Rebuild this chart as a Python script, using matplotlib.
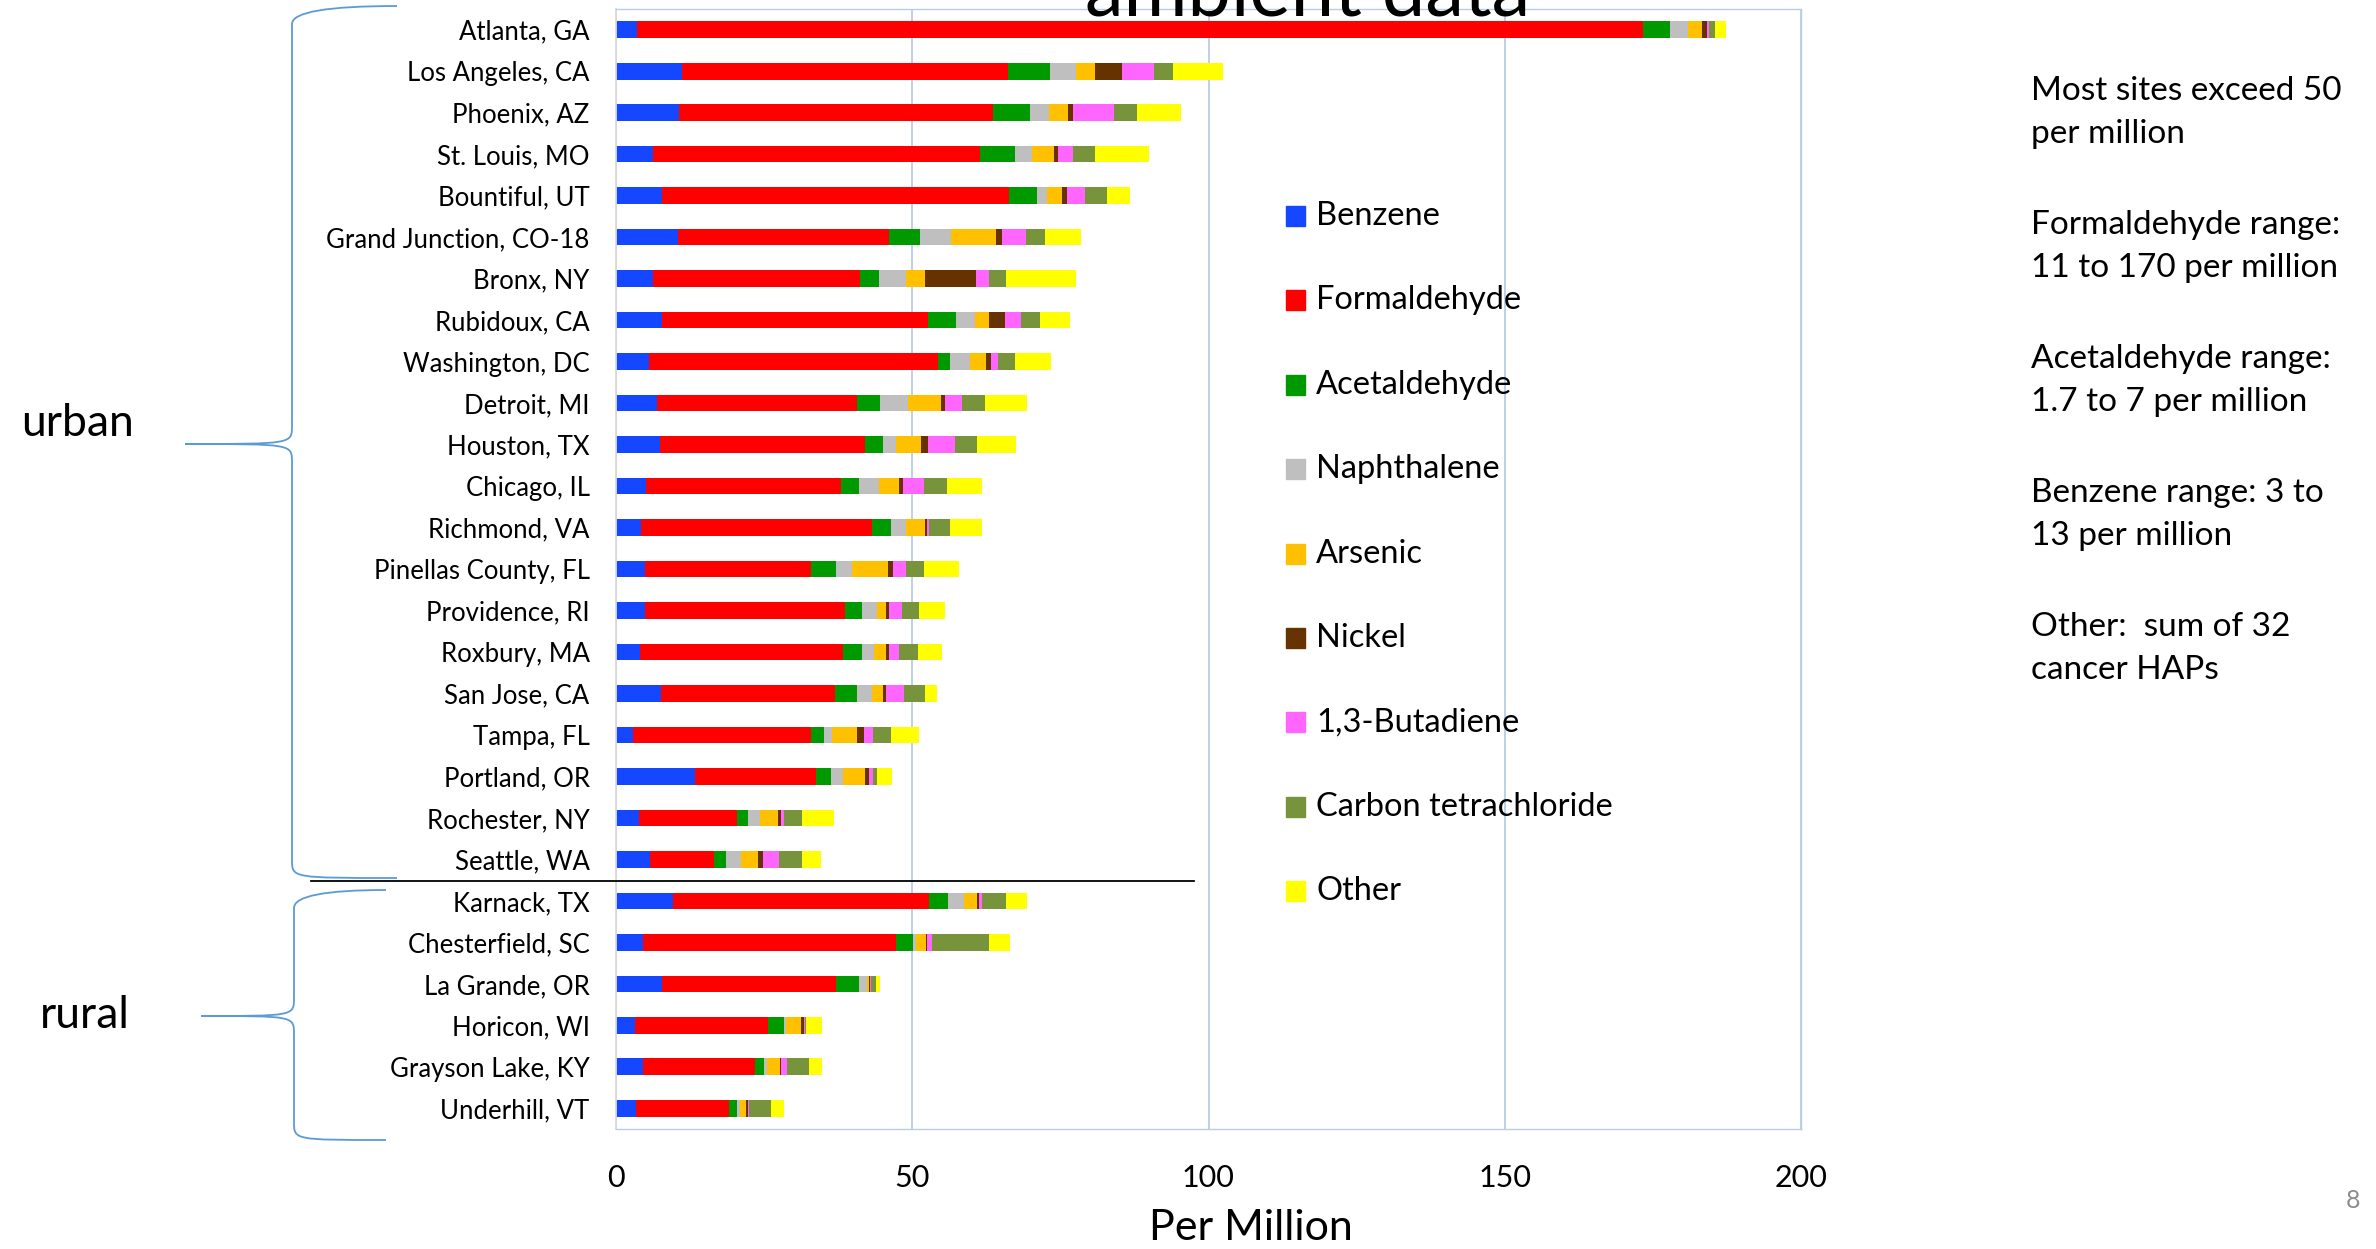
import numpy as np
import matplotlib.pyplot as plt
from matplotlib.patches import Rectangle, PathPatch
from matplotlib.path import Path

plt.rcParams['font.family'] = ['Lato', 'DejaVu Sans']

# ---- data (per million) ----
sites = ['Atlanta, GA', 'Los Angeles, CA', 'Phoenix, AZ', 'St. Louis, MO', 'Bountiful, UT',
         'Grand Junction, CO-18', 'Bronx, NY', 'Rubidoux, CA', 'Washington, DC', 'Detroit, MI',
         'Houston, TX', 'Chicago, IL', 'Richmond, VA', 'Pinellas County, FL', 'Providence, RI',
         'Roxbury, MA', 'San Jose, CA', 'Tampa, FL', 'Portland, OR', 'Rochester, NY',
         'Seattle, WA', 'Karnack, TX', 'Chesterfield, SC', 'La Grande, OR', 'Horicon, WI',
         'Grayson Lake, KY', 'Underhill, VT']

benzene = [3.6, 11.1, 10.6, 6.2, 7.8, 10.4, 6.2, 7.8, 5.6, 6.9, 7.5, 5.1, 4.3, 4.9, 4.9,
           4.1, 7.6, 2.9, 13.4, 3.9, 5.7, 9.6, 4.6, 7.7, 3.2, 4.6, 3.4]
formaldehyde = [169.8, 55.0, 53.1, 55.2, 58.5, 35.6, 35.0, 44.8, 48.7, 33.7, 34.6, 32.8, 38.9, 28.0, 33.8,
                34.2, 29.4, 30.0, 20.4, 16.6, 10.9, 43.3, 42.7, 29.4, 22.4, 18.9, 15.7]
acetaldehyde = [4.5, 7.2, 6.2, 6.0, 4.8, 5.3, 3.2, 4.8, 2.0, 3.9, 2.9, 3.1, 3.2, 4.2, 2.8,
                3.3, 3.6, 2.2, 2.5, 1.8, 2.0, 3.2, 2.9, 3.9, 2.8, 1.5, 1.4]
naphthalene = [3.1, 4.4, 3.1, 2.8, 1.6, 5.3, 4.6, 3.2, 3.4, 4.8, 2.2, 3.4, 2.6, 2.8, 2.5,
               2.0, 2.6, 1.4, 2.0, 2.0, 2.5, 2.7, 0.35, 1.3, 0.35, 0.5, 0.5]
arsenic = [2.3, 3.1, 3.3, 3.8, 2.6, 7.5, 3.2, 2.4, 2.8, 5.5, 4.2, 3.3, 3.2, 6.0, 1.6,
           1.9, 1.8, 4.2, 3.8, 3.0, 2.9, 2.1, 1.7, 0.4, 2.5, 2.2, 1.0]
nickel = [0.9, 4.6, 0.9, 0.6, 0.8, 1.0, 8.5, 2.7, 0.8, 0.8, 1.2, 0.7, 0.35, 0.8, 0.4,
          0.6, 0.6, 1.1, 0.6, 0.6, 0.8, 0.3, 0.3, 0.2, 0.5, 0.1, 0.3]
butadiene = [0.3, 5.4, 6.8, 2.6, 3.0, 4.1, 2.2, 2.7, 1.1, 2.8, 4.6, 3.6, 0.2, 2.2, 2.2,
             1.7, 3.0, 1.5, 0.6, 0.5, 2.7, 0.6, 0.8, 0.15, 0.15, 1.0, 0.15]
carbon_tet = [1.0, 3.2, 3.9, 3.7, 3.7, 3.2, 2.9, 3.2, 2.9, 3.9, 3.8, 3.8, 3.6, 3.0, 2.9,
              3.1, 3.6, 3.1, 0.7, 3.0, 3.9, 4.0, 9.6, 0.9, 0.2, 3.8, 3.7]
other = [1.8, 8.5, 7.4, 9.0, 4.0, 6.0, 11.8, 5.1, 6.2, 7.1, 6.5, 6.0, 5.4, 6.0, 4.5,
         4.1, 2.0, 4.8, 2.5, 5.4, 3.2, 3.6, 3.6, 0.6, 2.6, 2.2, 2.2]

series_names = ['Benzene', 'Formaldehyde', 'Acetaldehyde', 'Naphthalene', 'Arsenic',
                'Nickel', '1,3-Butadiene', 'Carbon tetrachloride', 'Other']
series = [benzene, formaldehyde, acetaldehyde, naphthalene, arsenic,
          nickel, butadiene, carbon_tet, other]
colors = ['#1447FF', '#FF0000', '#009900', '#BFBFBF', '#FFC000',
          '#663300', '#FF66FF', '#77933C', '#FFFF00']

notes = [['Most sites exceed 50', 'per million'],
         ['Formaldehyde range:', '11 to 170 per million'],
         ['Acetaldehyde range:', '1.7 to 7 per million'],
         ['Benzene range: 3 to', '13 per million'],
         ['Other:  sum of 32', 'cancer HAPs']]

W, H = 2376, 1249
fig = plt.figure(figsize=(W / 100, H / 100), dpi=100)


def fx(x):
    return x / W


def fy(y):
    return 1 - y / H


# ---- stacked bars ----
ax = fig.add_axes([fx(616), fy(1129), fx(1801) - fx(616), fy(9) - fy(1129)])
ypos = np.arange(len(sites))
left = np.zeros(len(sites))
for name, vals, c in zip(series_names, series, colors):
    ax.barh(ypos, vals, left=left, height=0.4, color=c, label=name, linewidth=0)
    left += np.array(vals)

ax.set_xlim(0, 200)
ax.set_ylim(26.5, -0.5)
ax.set_xticks([0, 50, 100, 150, 200])
ax.set_yticks(ypos)
ax.set_yticklabels(sites, fontsize=18.5)
ax.tick_params(axis='x', length=0, labelsize=22, pad=25)
ax.tick_params(axis='y', length=0, pad=19)
ax.grid(axis='x', color='#B9CDE5', lw=1.3)
ax.set_axisbelow(True)
for s in ['top', 'right', 'bottom']:
    ax.spines[s].set_color('#B9CDE5')
    ax.spines[s].set_linewidth(1.0)
ax.spines['left'].set_color('#D9D9D9')
ax.spines['left'].set_linewidth(1.3)

fig.text(fx(1251), fy(1228), 'Per Million', fontsize=31, ha='center', va='center')

# ---- slide title peeking in at top ----
fig.text(fx(1308), fy(16), 'ambient data', fontsize=56, ha='center', va='baseline')

# ---- legend drawn by hand ----
for i, (name, c) in enumerate(zip(series_names, colors)):
    yc = 216 + 84.4 * i
    fig.patches.append(Rectangle((fx(1286), fy(yc + 10)), fx(19), 20 / H, color=c,
                                 transform=fig.transFigure, figure=fig))
    fig.text(fx(1316), fy(yc), name, fontsize=23.5, va='center', ha='left')

# ---- notes on the right ----
for k, para in enumerate(notes):
    for j, line in enumerate(para):
        fig.text(fx(2031), fy(91 + 134 * k + 43 * j), line, fontsize=24, va='center', ha='left')

fig.text(fx(2353), fy(1201), '8', fontsize=18, color='#8C8C8C', ha='center', va='center')


# ---- curly braces and group labels ----
def brace(x_tip, x_v, x_mid, y_top, y_mid, y_bot, r=18):
    pts = [(x_tip, y_top), (x_v, y_top), (x_v, y_top + r),
           (x_v, y_mid - r), (x_v, y_mid), (x_v, y_mid), (x_mid, y_mid),
           (x_v, y_mid), (x_v, y_mid), (x_v, y_mid + r),
           (x_v, y_bot - r), (x_v, y_bot), (x_v, y_bot), (x_tip, y_bot)]
    codes = [Path.MOVETO, Path.CURVE3, Path.CURVE3,
             Path.LINETO, Path.CURVE4, Path.CURVE4, Path.CURVE4,
             Path.CURVE4, Path.CURVE4, Path.CURVE4,
             Path.LINETO, Path.CURVE4, Path.CURVE4, Path.CURVE4]
    verts = [(fx(x), fy(y)) for x, y in pts]
    fig.patches.append(PathPatch(Path(verts, codes), fill=False, edgecolor='#5B9BD5', lw=1.3,
                                 transform=fig.transFigure, figure=fig))


brace(397, 292, 185, 6, 444, 878)
brace(386, 294, 201, 890, 1016, 1140)
fig.text(fx(77), fy(424), 'urban', fontsize=32, ha='center', va='center')
fig.text(fx(85), fy(1015), 'rural', fontsize=32, ha='center', va='center')

# separator between urban and rural sites
fig.add_artist(plt.Line2D([fx(311), fx(1194)], [fy(881), fy(881)], color='black', lw=1.3))

fig.savefig('out.png', dpi=100)
